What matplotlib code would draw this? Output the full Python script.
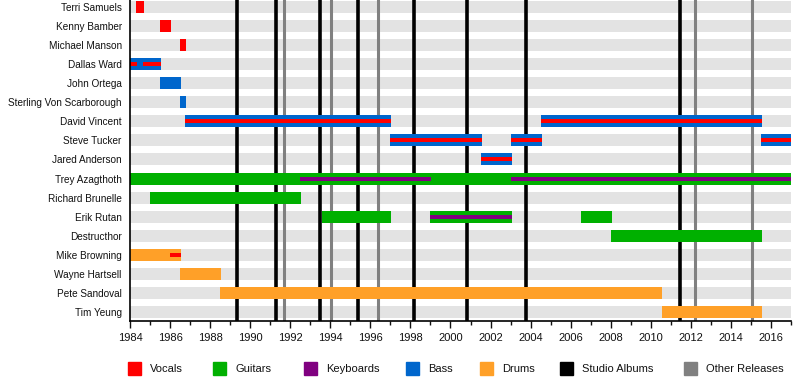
import matplotlib
matplotlib.use("Agg")
import matplotlib.pyplot as plt
from matplotlib.patches import Rectangle

plt.rcParams['font.family'] = ['Liberation Sans', 'DejaVu Sans']
plt.rcParams['font.size'] = 7.7
plt.rcParams['text.color'] = '#111111'
plt.rcParams['xtick.color'] = '#111111'
plt.rcParams['ytick.color'] = '#111111'

members = ["Terri Samuels", "Kenny Bamber", "Michael Manson", "Dallas Ward", "John Ortega",
           "Sterling Von Scarborough", "David Vincent", "Steve Tucker", "Jared Anderson",
           "Trey Azagthoth", "Richard Brunelle", "Erik Rutan", "Destructhor",
           "Mike Browning", "Wayne Hartsell", "Pete Sandoval", "Tim Yeung"]

# (member, start, end) - main role, full height bars
vocals = [("Terri Samuels", 1984.3, 1984.7), ("Kenny Bamber", 1985.5, 1986.05),
          ("Michael Manson", 1986.5, 1986.8)]
guitars = [("Trey Azagthoth", 1984.0, 2017.0), ("Richard Brunelle", 1985.0, 1992.55),
           ("Erik Rutan", 1993.6, 1997.05), ("Erik Rutan", 1999.0, 2003.05),
           ("Erik Rutan", 2006.5, 2008.05), ("Destructhor", 2008.0, 2015.55)]
bass = [("Dallas Ward", 1984.0, 1985.55), ("John Ortega", 1985.5, 1986.55),
        ("Sterling Von Scarborough", 1986.5, 1986.8), ("David Vincent", 1986.75, 1997.05),
        ("David Vincent", 2004.5, 2015.55), ("Steve Tucker", 1997.0, 2001.55),
        ("Steve Tucker", 2003.0, 2004.55), ("Steve Tucker", 2015.5, 2017.0),
        ("Jared Anderson", 2001.5, 2003.05)]
drums = [("Mike Browning", 1984.0, 1986.55), ("Wayne Hartsell", 1986.5, 1988.55),
         ("Pete Sandoval", 1988.5, 2010.55), ("Tim Yeung", 2010.55, 2015.55)]

# secondary roles, thin stripe inside the bar
vocals_2nd = [("Dallas Ward", 1984.0, 1984.35), ("Dallas Ward", 1984.67, 1985.55),
              ("David Vincent", 1986.75, 1997.05), ("David Vincent", 2004.5, 2015.55),
              ("Steve Tucker", 1997.0, 2001.55), ("Steve Tucker", 2003.0, 2004.55),
              ("Steve Tucker", 2015.5, 2017.0), ("Jared Anderson", 2001.5, 2003.05),
              ("Mike Browning", 1986.0, 1986.55)]
keyboards_2nd = [("Trey Azagthoth", 1992.5, 1999.05), ("Trey Azagthoth", 2003.0, 2017.0),
                 ("Erik Rutan", 1999.0, 2003.05)]

studio_albums = [1989.35, 1991.3, 1993.47, 1995.37, 1998.17, 2000.83, 2003.77, 2011.47]
other_releases = [1991.67, 1994.02, 1996.37, 2012.22, 2015.07]

colors = {"Vocals": "#ff0000", "Guitars": "#00b000", "Keyboards": "#800080",
          "Bass": "#0066cc", "Drums": "#ffa028", "Studio Albums": "#000000",
          "Other Releases": "#808080"}

x0, x1 = 1984, 2017
bar_h = 0.63

fig = plt.figure(figsize=(8, 3.8), dpi=100)
ax = fig.add_axes([130 / 800, 1 - 320.5 / 380, 661 / 800, 320.5 / 380])

ypos = {m: i for i, m in enumerate(members)}

# gray row bands
ax.barh(range(len(members)), x1 - x0, left=x0, height=bar_h, color="#e3e3e3", zorder=1)

for d in studio_albums:
    ax.axvline(d, color=colors["Studio Albums"], lw=2.6, zorder=2)
for d in other_releases:
    ax.axvline(d, color=colors["Other Releases"], lw=2.2, zorder=2)


def draw(periods, color, h, z):
    ys = [ypos[m] for m, s, e in periods]
    lefts = [s for m, s, e in periods]
    widths = [e - s for m, s, e in periods]
    ax.barh(ys, widths, left=lefts, height=h, color=color, zorder=z, linewidth=0)


draw(vocals, colors["Vocals"], bar_h, 3)
draw(guitars, colors["Guitars"], bar_h, 3)
draw(bass, colors["Bass"], bar_h, 3)
draw(drums, colors["Drums"], bar_h, 3)
draw(vocals_2nd, colors["Vocals"], bar_h / 3, 4)
draw(keyboards_2nd, colors["Keyboards"], bar_h / 3, 4)

ax.set_xlim(x0, x1)
ax.set_ylim(16.45, -0.37)
ax.set_yticks(range(len(members)))
ax.set_yticklabels(members)
ax.tick_params(axis="y", length=0, pad=6, labelsize=7.2)
ax.set_xticks(range(1984, 2017, 2))
ax.set_xticks(range(1984, 2018), minor=True)
ax.tick_params(axis="x", which="major", length=5, width=1, pad=4, labelsize=8)
ax.tick_params(axis="x", which="minor", length=3, width=1)
for s in ["top", "right"]:
    ax.spines[s].set_visible(False)
ax.spines["left"].set_linewidth(1.2)
ax.spines["bottom"].set_linewidth(1.2)
ax.spines["left"].set_zorder(5)

# legend along the bottom
legend_x = [128, 213, 304, 406, 480, 560, 684]
for (name, col), lx in zip(colors.items(), legend_x):
    fig.patches.append(Rectangle((lx / 800, 1 - 375 / 380), 13 / 800, 13 / 380,
                                 transform=fig.transFigure, color=col))
    fig.text((lx + 22) / 800, 1 - 372 / 380, name, va="baseline", ha="left", fontsize=8)

fig.savefig("out.png", dpi=100)
